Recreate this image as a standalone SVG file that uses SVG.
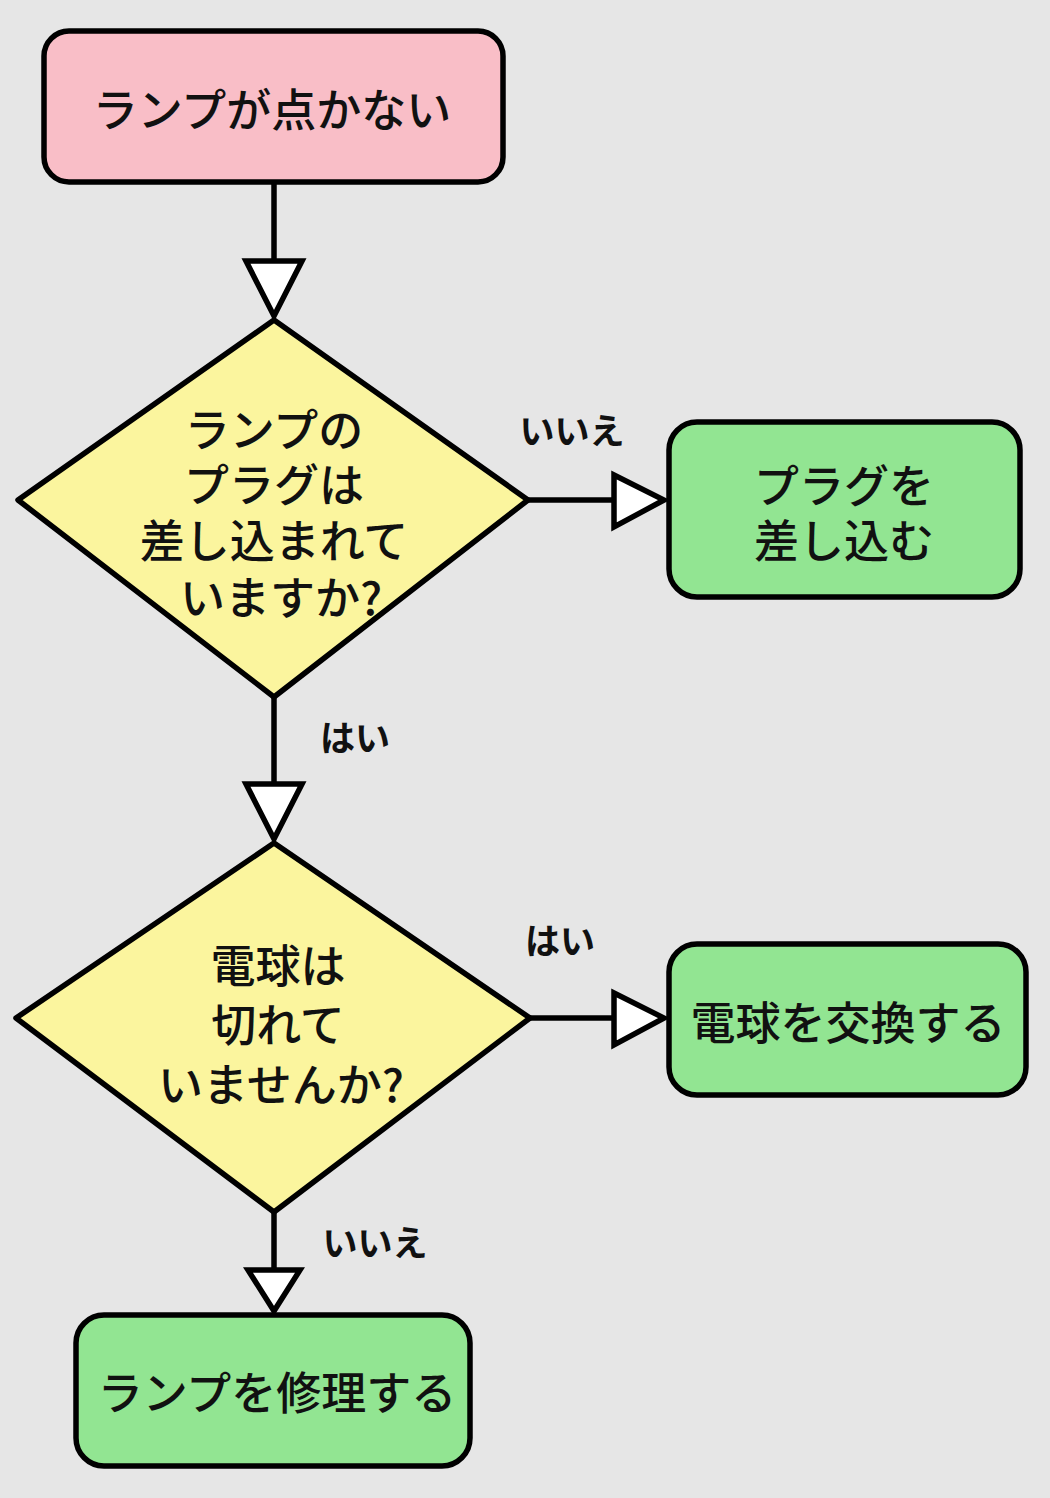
<svg xmlns="http://www.w3.org/2000/svg" width="1050" height="1498" viewBox="0 0 1050 1498">
<style>
.n{stroke:#000;stroke-width:5.5;stroke-linejoin:round}
.t{font-family:"Noto Sans CJK JP","Noto Sans",sans-serif;font-size:45px;font-weight:500;fill:#111;text-anchor:middle;dominant-baseline:central}
.l{font-family:"Noto Sans CJK JP","Noto Sans",sans-serif;font-size:35px;font-weight:700;fill:#111;text-anchor:middle;dominant-baseline:central}
.c{stroke:#000;stroke-width:5.5;fill:none}
.a{stroke:#000;stroke-width:5.5;fill:#fff;stroke-linejoin:miter}
</style>
<rect width="1050" height="1498" fill="#e6e6e6"/>
<g id="connectors">
<line class="c" x1="274" y1="183" x2="274" y2="261"/>
<polygon class="a" points="246,261 302,261 274,316"/>
<line class="c" x1="274" y1="697" x2="274" y2="784"/>
<polygon class="a" points="246,784 302,784 274,839"/>
<line class="c" x1="274" y1="1212" x2="274" y2="1270"/>
<polygon class="a" points="248,1270 300,1270 274,1311"/>
<line class="c" x1="528" y1="500" x2="614" y2="500"/>
<polygon class="a" points="614,475 614,527 664,500"/>
<line class="c" x1="530" y1="1018" x2="614" y2="1018"/>
<polygon class="a" points="614,993 614,1045 664,1018"/>
<text class="l" x="572" y="428">いいえ</text>
<text class="l" x="355" y="735">はい</text>
<text class="l" x="560" y="938">はい</text>
<text class="l" x="375" y="1240">いいえ</text>
</g>
<g id="start">
<rect class="n" x="44" y="31" width="459" height="151" rx="25" fill="#f9bec7"/>
<text class="t" x="272" y="107">ランプが点かない</text>
</g>
<g id="q1">
<polygon class="n" points="274,320 528,500 274,697 18,500" fill="#fbf59e"/>
<text class="t" x="274" y="427">ランプの</text>
<text class="t" x="274" y="482">プラグは</text>
<text class="t" x="274" y="538">差し込まれて</text>
<text class="t" x="281" y="595">いますか?</text>
</g>
<g id="plug">
<rect class="n" x="669" y="422" width="351" height="175" rx="28" fill="#92e592"/>
<text class="t" x="844" y="483">プラグを</text>
<text class="t" x="844" y="538">差し込む</text>
</g>
<g id="q2">
<polygon class="n" points="274,843 530,1018 274,1212 16,1018" fill="#fbf59e"/>
<text class="t" x="278" y="963">電球は</text>
<text class="t" x="278" y="1022">切れて</text>
<text class="t" x="281" y="1082">いませんか?</text>
</g>
<g id="bulb">
<rect class="n" x="669" y="944" width="357" height="151" rx="28" fill="#92e592"/>
<text class="t" x="848" y="1020">電球を交換する</text>
</g>
<g id="repair">
<rect class="n" x="76" y="1315" width="394" height="151" rx="28" fill="#92e592"/>
<text class="t" x="277" y="1390">ランプを修理する</text>
</g>
</svg>
